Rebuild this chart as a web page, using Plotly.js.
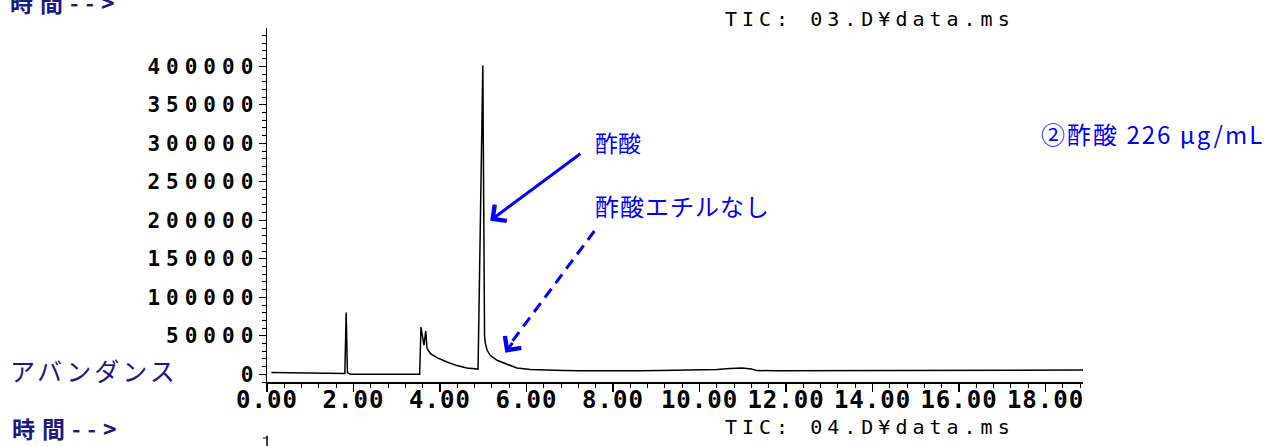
<!DOCTYPE html>
<html>
<head>
<meta charset="utf-8">
<script src="https://cdn.plot.ly/plotly-3.0.1.min.js"></script>
<style>
html,body{margin:0;padding:0;background:#ffffff;}
#chart{width:1279px;height:446px;}
.xtick text{letter-spacing:1px;}
.ytick text{letter-spacing:6px;}
</style>
</head>
<body>
<div id="chart"></div>
<script>
// Retention time (min) and TIC abundance
const retentionTime = [0.10, 0.40, 0.80, 1.20, 1.60, 1.80, 1.83, 1.86, 1.93, 2.40, 3.00, 3.53,
  3.56, 3.63, 3.67, 3.70, 3.78, 3.93, 4.16, 4.39, 4.62, 4.86, 4.88, 4.99, 5.03, 5.05, 5.09,
  5.16, 5.32, 5.55, 5.78, 6.09, 6.47, 6.86, 7.25, 7.63, 8.10, 8.60, 9.10, 9.60, 10.00, 10.40,
  10.70, 10.98, 11.20, 11.33, 11.80, 12.40, 13.00, 13.60, 14.20, 14.80, 15.40, 16.00, 16.60,
  17.20, 17.80, 18.40, 18.87];
const abundance = [2200, 2000, 1800, 1600, 1300, 1200, 80100, 2000, 0, 0, 0, 0,
  61400, 37700, 56300, 33400, 26900, 21700, 16000, 11300, 8200, 6500, 6800, 401000, 50000, 39900, 31200,
  24700, 18200, 13000, 8200, 6100, 5200, 4800, 4500, 4300, 4500, 4700, 4900, 5100, 5300, 6200,
  7500, 8200, 7000, 4800, 4700, 4800, 4900, 5000, 5000, 5100, 5100, 5200, 5300,
  5300, 5400, 5500, 5600];

const xTickVals = [0, 2, 4, 6, 8, 10, 12, 14, 16, 18];
const xTickText = ['0.00', '2.00', '4.00', '6.00', '8.00', '10.00', '12.00', '14.00', '16.00', '18.00'];
const yTickVals = [0, 50000, 100000, 150000, 200000, 250000, 300000, 350000, 400000];
const yTickText = ['0', '50000', '100000', '150000', '200000', '250000', '300000', '350000', '400000'];

const navy = '#1a1a86';
const blue = '#0000ff';
const jp = 'Noto Sans CJK JP';
const mono = 'DejaVu Sans Mono';

const trace = {
  x: retentionTime,
  y: abundance,
  type: 'scatter',
  mode: 'lines',
  line: {color: '#000000', width: 1.5},
  hoverinfo: 'skip',
  showlegend: false
};

const layout = {
  width: 1279,
  height: 446,
  margin: {l: 267, r: 196, t: 28, b: 64, pad: 0},
  paper_bgcolor: '#ffffff',
  plot_bgcolor: '#ffffff',
  showlegend: false,
  xaxis: {
    range: [0, 18.867],
    showline: true, linecolor: '#000000', linewidth: 1.5,
    showgrid: false, zeroline: false,
    ticks: 'outside', ticklen: 8, tickwidth: 1.2, tickcolor: '#000000',
    tickmode: 'array', tickvals: xTickVals, ticktext: xTickText, tickangle: 0,
    ticklabelstandoff: -12,
    tickfont: {family: mono, size: 24, color: '#000000', weight: 'bold'},
    minor: {tick0: 0, dtick: 0.4, ticks: 'outside', ticklen: 4, tickwidth: 1, tickcolor: '#000000', showgrid: false}
  },
  yaxis: {
    range: [-10000, 449740],
    showline: true, linecolor: '#000000', linewidth: 1.5,
    showgrid: false, zeroline: false,
    ticks: 'outside', ticklen: 7, tickwidth: 1.2, tickcolor: '#000000',
    tickmode: 'array', tickvals: yTickVals, ticktext: yTickText,
    ticklabelstandoff: -5,
    tickfont: {family: mono, size: 21, color: '#000000', weight: 'bold'},
    minor: {tick0: 0, dtick: 10000, ticks: 'outside', ticklen: 4, tickwidth: 1, tickcolor: '#000000', showgrid: false}
  },
  shapes: [
    {type: 'line', xref: 'x', yref: 'y', x0: 7.57, y0: 186100, x1: 5.62, y1: 39000,
     line: {color: blue, width: 3, dash: '11px,7px'}},
    {type: 'line', xref: 'paper', yref: 'paper', x0: 0, x1: 0, y0: -0.152, y1: -0.185,
     line: {color: '#000000', width: 1.5}},
    {type: 'line', xref: 'paper', yref: 'paper', x0: -0.005, x1: 0, y0: -0.158, y1: -0.158,
     line: {color: '#000000', width: 1}}
  ],
  annotations: [
    {xref: 'paper', yref: 'paper', x: -0.3174, y: 1.0734, xanchor: 'left', yanchor: 'middle',
     text: '<span style="letter-spacing:7px">時間--></span>', showarrow: false, font: {family: jp, size: 23, color: navy, weight: 'bold'}},
    {xref: 'paper', yref: 'paper', x: 0.5588, y: 1.0254, xanchor: 'left', yanchor: 'middle',
     text: '<span style="letter-spacing:5px">TIC: 03.D¥data.ms</span>', showarrow: false,
     font: {family: mono, size: 20, color: '#000000'}},
    {xref: 'paper', yref: 'paper', x: -0.3180, y: 0.0339, xanchor: 'left', yanchor: 'middle',
     text: '<span style="letter-spacing:3px">アバンダンス</span>', showarrow: false, font: {family: jp, size: 25, color: navy}},
    {xref: 'paper', yref: 'paper', x: -0.3150, y: -0.1299, xanchor: 'left', yanchor: 'middle',
     text: '<span style="letter-spacing:7px">時間--></span>', showarrow: false, font: {family: jp, size: 23, color: navy, weight: 'bold'}},
    {xref: 'paper', yref: 'paper', x: 0.5588, y: -0.1285, xanchor: 'left', yanchor: 'middle',
     text: '<span style="letter-spacing:5px">TIC: 04.D¥data.ms</span>', showarrow: false,
     font: {family: mono, size: 20, color: '#000000'}},
    {xref: 'paper', yref: 'paper', x: 0.400, y: 0.678, xanchor: 'left', yanchor: 'middle',
     text: '酢酸', showarrow: false, font: {family: jp, size: 23, color: blue}},
    {xref: 'paper', yref: 'paper', x: 0.400, y: 0.4986, xanchor: 'left', yanchor: 'middle',
     text: '<span style="letter-spacing:1px">酢酸エチルなし</span>', showarrow: false, font: {family: jp, size: 24, color: blue}},
    {xref: 'paper', yref: 'paper', x: 0.9460, y: 0.7006, xanchor: 'left', yanchor: 'middle',
     text: '<span style="letter-spacing:2px">②酢酸 226 μg/mL</span>', showarrow: false, font: {family: jp, size: 24, color: blue}},
    {xref: 'x', yref: 'y', x: 5.16, y: 199500, axref: 'x', ayref: 'y', ax: 7.28, ay: 287800,
     text: '', showarrow: true, arrowhead: 4, arrowsize: 1.3, arrowwidth: 3, arrowcolor: blue, standoff: 0},
    {xref: 'x', yref: 'y', x: 5.51, y: 28050, axref: 'x', ayref: 'y', ax: 5.70, ay: 42750,
     text: '', showarrow: true, arrowhead: 4, arrowsize: 1.3, arrowwidth: 3, arrowcolor: blue, standoff: 0}
  ]
};

Plotly.newPlot('chart', [trace], layout, {staticPlot: true, displayModeBar: false});
</script>
</body>
</html>
